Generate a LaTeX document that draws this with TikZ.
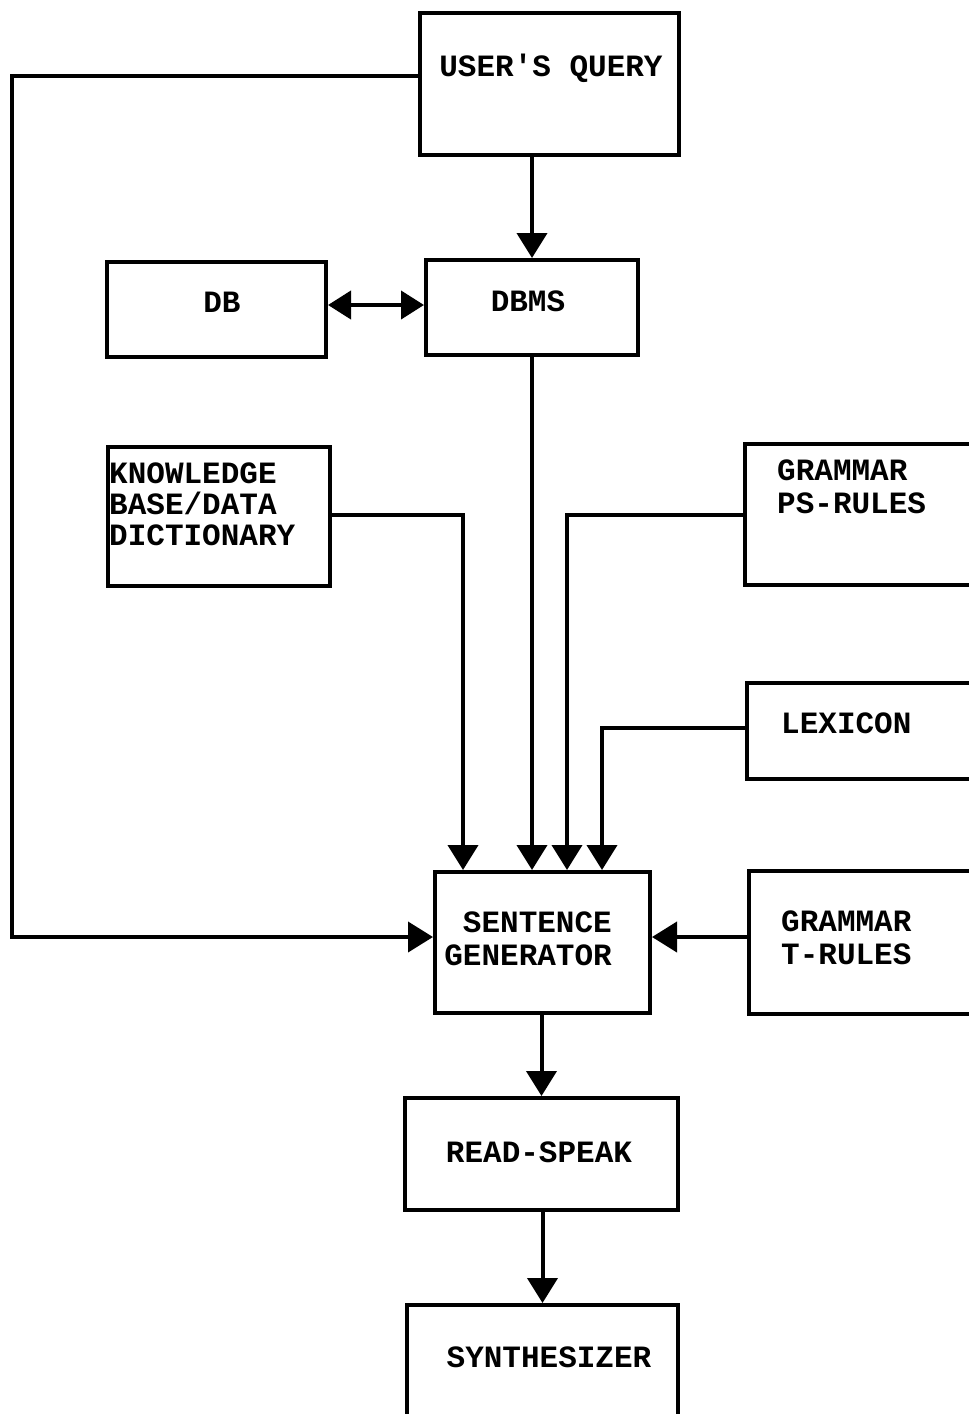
\documentclass[tikz,border=0pt]{standalone}
\usepackage{fontspec}
\newfontfamily\tw{Liberation Mono}
\usetikzlibrary{arrows.meta,fit}
\begin{document}
\begin{tikzpicture}[x=1pt,y=-1pt,
  box/.style={draw=black, line width=4pt, inner sep=0pt, rectangle},
  lbl/.style={font=\tw\bfseries\fontsize{31}{33}\selectfont, inner sep=0pt, align=left},
  conn/.style={draw=black, line width=4pt},
  arr/.style={conn, -{Triangle[width=30pt,length=25pt]}},
  dbl/.style={conn, {Triangle[width=28pt,length=23pt]}-{Triangle[width=28pt,length=23pt]}}]
\clip (0,0) rectangle (969,1414);
\fill[white] (0,0) rectangle (969,1414);
% boxes
\node[box, fit={(420,13) (679,155)}] (uq) {};
\node[box, fit={(107,262) (326,357)}] (db) {};
\node[box, fit={(426,260) (638,355)}] (dbms) {};
\node[box, fit={(108,447) (330,586)}] (kb) {};
\node[box, fit={(745,444) (1010,585)}] (ps) {};
\node[box, fit={(747,683) (1010,779)}] (lex) {};
\node[box, fit={(435,872) (650,1013)}] (sg) {};
\node[box, fit={(749,871) (1010,1014)}] (tr) {};
\node[box, fit={(405,1098) (678,1210)}] (rs) {};
\node[box, fit={(407,1305) (678,1450)}] (syn) {};
% texts
\node[lbl] (tuq) at (551,68) {USER'S QUERY};
\node[lbl] (tdb) at (222,302) {DB};
\node[lbl] (tdbms) at (528,301) {DBMS};
\node[lbl, anchor=north west, font=\tw\bfseries\fontsize{31}{31}\selectfont] (tkb) at (109,463) {KNOWLEDGE\\BASE/DATA\\DICTIONARY};
\node[lbl, anchor=north west] (tps) at (777,460) {GRAMMAR\\PS-RULES};
\node[lbl, anchor=west] (tlex) at (781,723) {LEXICON};
\node[lbl, anchor=north east, align=right] (tsg) at (612,912) {SENTENCE\\GENERATOR};
\node[lbl, anchor=north west] (ttr) at (781,911) {GRAMMAR\\T-RULES};
\node[lbl] (trs) at (539,1152) {READ-SPEAK};
\node[lbl] (tsyn) at (549,1357) {SYNTHESIZER};
% turning points
\coordinate (loopTop) at (12,76);
\coordinate (loopBot) at (12,937);
\coordinate (kbturn) at (463,515);
\coordinate (psturn) at (567,515);
\coordinate (lexturn) at (602,728);
\coordinate (trpt) at (700,937);
% connectors
\draw[arr] (uq.south -| dbms.north) -- (dbms.north);
\draw[dbl] (db.east |- 0,305) -- (dbms.west |- 0,305);
\draw[arr] (dbms.south) -- (dbms.south |- sg.north);
\draw[arr] (uq.west |- loopTop) -- (loopTop) -- (loopBot) -- (sg.west |- loopBot);
\draw[arr] (kb.east |- kbturn) -- (kbturn) -- (kbturn |- sg.north);
\draw[arr] (ps.west |- psturn) -- (psturn) -- (psturn |- sg.north);
\draw[arr] (lex.west |- lexturn) -- (lexturn) -- (lexturn |- sg.north);
\draw[arr] (tr.west |- trpt) -- (sg.east |- trpt);
\draw[arr] (sg.south -| rs.north) -- (rs.north);
\draw[arr] (rs.south -| syn.north) -- (syn.north);
\end{tikzpicture}
\end{document}
